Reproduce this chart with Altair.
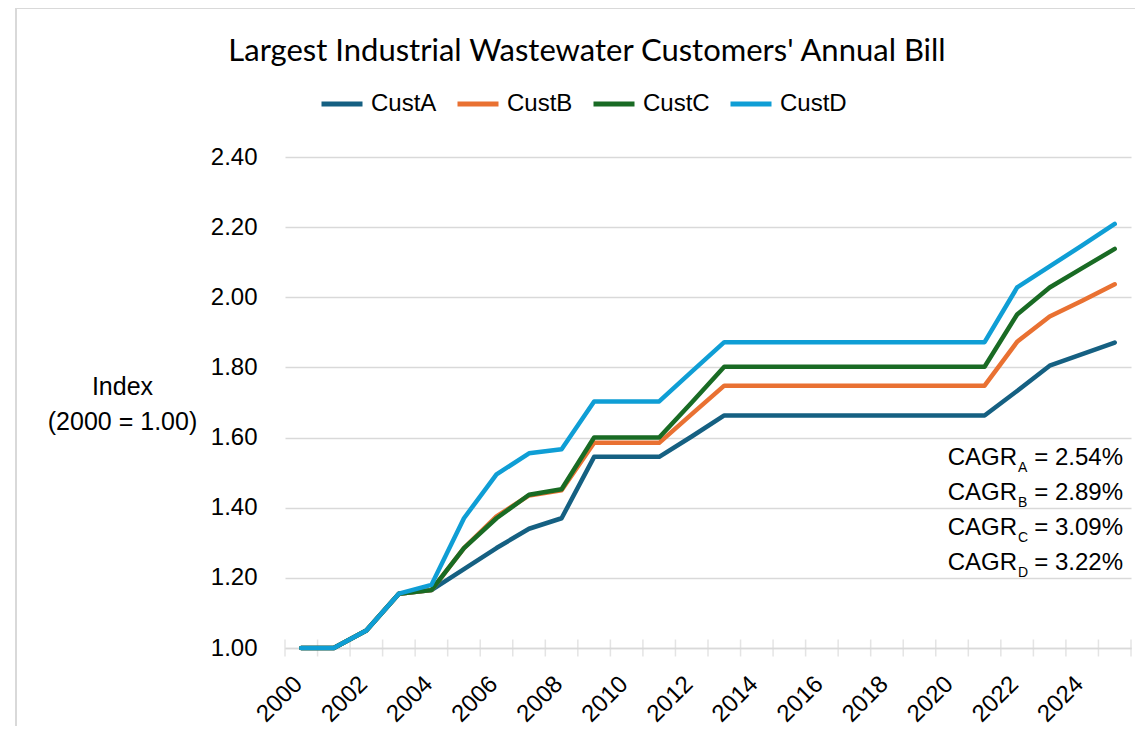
import altair as alt
import pandas as pd

years = list(range(2000, 2026))
cust_a = [1.00, 1.00, 1.05, 1.155, 1.165, 1.225, 1.285, 1.34, 1.37, 1.545, 1.545, 1.545, 1.603, 1.663,
          1.663, 1.663, 1.663, 1.663, 1.663, 1.663, 1.663, 1.663, 1.733, 1.805, 1.838, 1.871]
cust_b = [1.00, 1.00, 1.05, 1.155, 1.165, 1.285, 1.375, 1.435, 1.45, 1.585, 1.585, 1.585, 1.667, 1.748,
          1.748, 1.748, 1.748, 1.748, 1.748, 1.748, 1.748, 1.748, 1.873, 1.945, 1.99, 2.037]
cust_c = [1.00, 1.00, 1.05, 1.155, 1.165, 1.285, 1.37, 1.437, 1.4525, 1.60, 1.60, 1.60, 1.70, 1.802,
          1.802, 1.802, 1.802, 1.802, 1.802, 1.802, 1.802, 1.802, 1.951, 2.028, 2.083, 2.138]
cust_d = [1.00, 1.00, 1.05, 1.155, 1.18, 1.37, 1.495, 1.555, 1.567, 1.703, 1.703, 1.703, 1.788, 1.872,
          1.872, 1.872, 1.872, 1.872, 1.872, 1.872, 1.872, 1.872, 2.028, 2.088, 2.148, 2.209]
series_names = ["CustA", "CustB", "CustC", "CustD"]
series_colors = ["#156082", "#E97132", "#196B24", "#0F9ED5"]
cagr_letters = ["A", "B", "C", "D"]
cagr_values = ["2.54%", "2.89%", "3.09%", "3.22%"]
y_ticks = [1.00, 1.20, 1.40, 1.60, 1.80, 2.00, 2.20, 2.40]
label_years = years[::2]

rows = []
for name, vals in zip(series_names, [cust_a, cust_b, cust_c, cust_d]):
    for yr, v in zip(years, vals):
        rows.append({"Year": yr, "Customer": name, "Index": v})
df = pd.DataFrame(rows)

tick_df = pd.DataFrame({"Year": [y - 0.5 for y in years] + [years[-1] + 0.5]})
tick_df["Index"] = y_ticks[0]

cagr_df = pd.DataFrame({
    "main": ["CAGR"] * 4,
    "sub": cagr_letters,
    "rest": ["= " + v for v in cagr_values],
    "yv": [1.522 - 0.1 * i for i in range(4)],
    "xv": [years[-1] + 0.5] * 4,
})

FONT = "Liberation Sans"
GRID = "#d9d9d9"

x_scale = alt.Scale(domain=[years[0] - 0.5, years[-1] + 0.5], nice=False, zero=False)
y_scale = alt.Scale(domain=[y_ticks[0], y_ticks[-1]], nice=False, zero=False)

lines = alt.Chart(df).mark_line(strokeWidth=4.5, strokeJoin="round", strokeCap="round").encode(
    x=alt.X("Year:Q", scale=x_scale, axis=alt.Axis(
        values=label_years, format="d", labelAngle=-45, labelAlign="right",
        labelBaseline="middle", labelPadding=32, labelOffset=-3, ticks=False, grid=False,
        domainColor=GRID, domainWidth=1.5, labelFontSize=24, labelFont=FONT,
        labelColor="black", title=None, labelOverlap=False, labelFlush=False)),
    y=alt.Y("Index:Q", scale=y_scale, axis=alt.Axis(
        values=y_ticks, format=".2f", domain=False, ticks=False, grid=True,
        gridColor=GRID, gridWidth=1.5, labelFontSize=24, labelFont=FONT,
        labelColor="black", labelPadding=28,
        title=["Index", "(2000 = 1.00)"], titleAngle=0, titleAlign="center",
        titleBaseline="middle", titleX=-163, titleY=229, titleFontSize=25,
        titleFontWeight="normal", titleFont=FONT, titleColor="black",
        titleLineHeight=35)),
    color=alt.Color("Customer:N", scale=alt.Scale(domain=series_names, range=series_colors),
                    legend=alt.Legend(orient="none", legendX=34, legendY=-76,
                                      direction="horizontal", title=None,
                                      symbolType="stroke", symbolSize=1681,
                                      symbolStrokeWidth=5, labelFontSize=24,
                                      labelFont=FONT, labelOffset=6,
                                      columnPadding=10, labelColor="black")),
)

ticks = alt.Chart(tick_df).mark_tick(orient="vertical", size=17, thickness=1.5, color=GRID).encode(
    x=alt.X("Year:Q", scale=x_scale),
    y=alt.Y("Index:Q", scale=y_scale),
)

base_txt = alt.Chart(cagr_df).encode(
    x=alt.X("xv:Q", scale=x_scale),
    y=alt.Y("yv:Q", scale=y_scale),
)
t_main = base_txt.mark_text(align="right", baseline="alphabetic", dx=-114, fontSize=24,
                            font=FONT, color="black").encode(text="main:N")
t_sub = base_txt.mark_text(align="left", baseline="alphabetic", dx=-113, dy=7, fontSize=14,
                           font=FONT, color="black").encode(text="sub:N")
t_rest = base_txt.mark_text(align="right", baseline="alphabetic", dx=-8, fontSize=24,
                            font=FONT, color="black").encode(text="rest:N")

border_v = alt.Chart(tick_df).mark_rule(color=GRID, strokeWidth=2).encode(
    x=alt.value(-269), y=alt.value(-149), y2=alt.value(580))
border_h = alt.Chart(tick_df).mark_rule(color=GRID, strokeWidth=2).encode(
    x=alt.value(-269), x2=alt.value(850), y=alt.value(-149))

chart = alt.layer(ticks, lines, t_main, t_sub, t_rest, border_v, border_h).properties(
    width=846, height=491,
    autosize=alt.AutoSizeParams(type="none"),
    padding={"left": 277, "top": 149, "right": 4, "bottom": 78},
    title=alt.TitleParams(text="Largest Industrial Wastewater Customers' Annual Bill",
                          font="Lato", fontSize=31, fontWeight="normal", color="black",
                          anchor="middle", frame="group", dx=-121, offset=-85,
                          baseline="alphabetic"),
).configure_view(stroke=None)

chart.save("out.html", embed_options={"renderer": "svg", "actions": False})
